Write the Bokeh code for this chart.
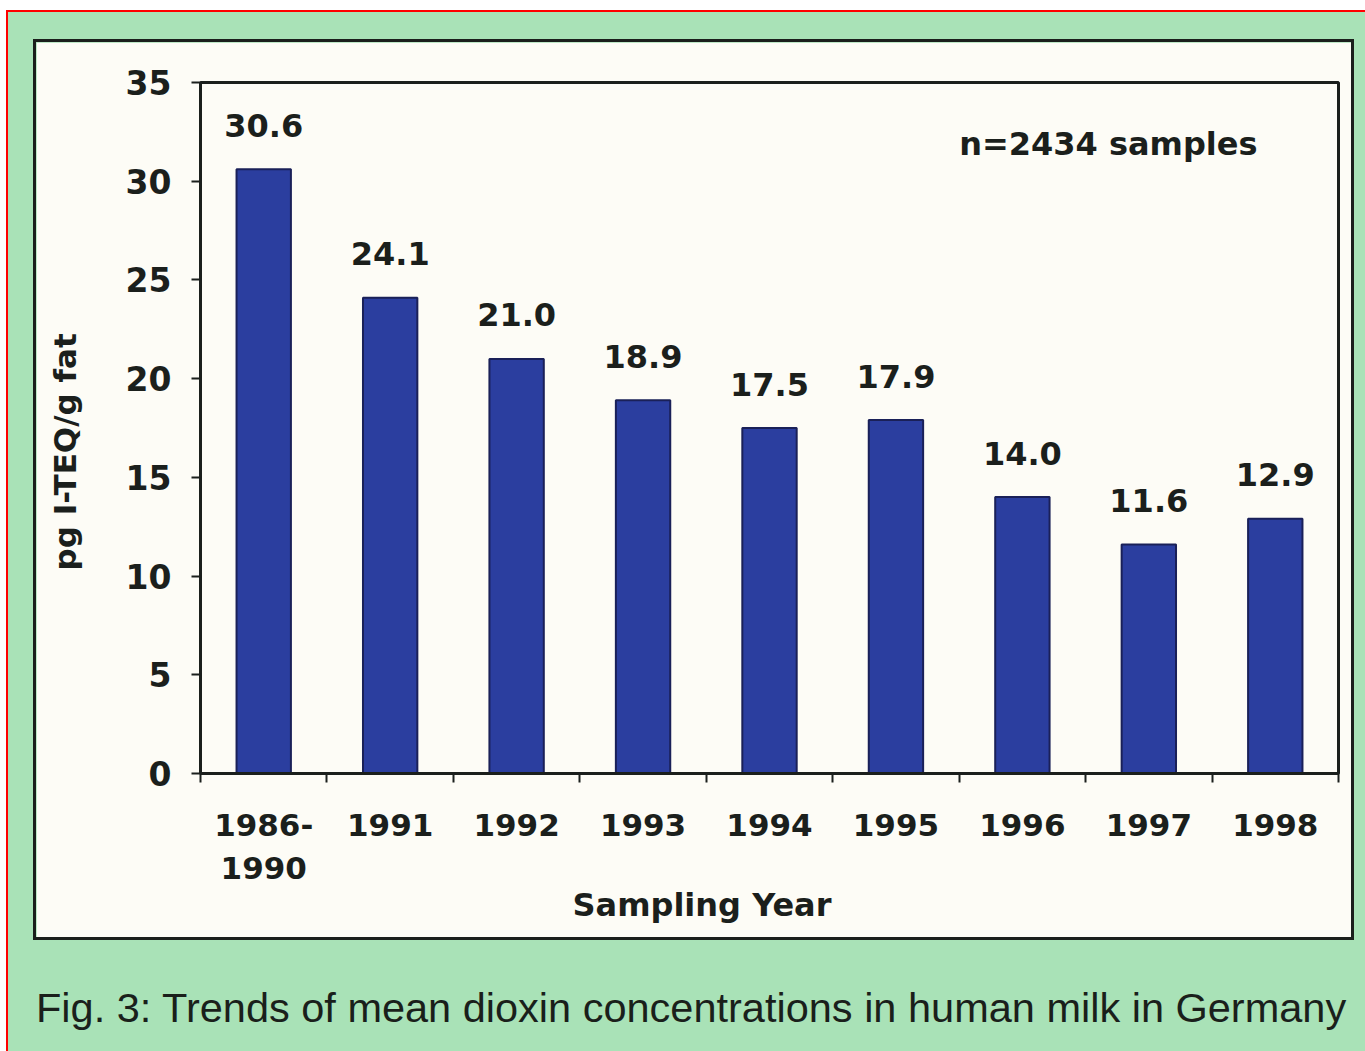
import numpy as np
from bokeh.plotting import figure
from bokeh.models import FixedTicker, Range1d, Label, Div, ColumnDataSource, Title
from bokeh.layouts import column
from bokeh.embed import file_html
from bokeh.resources import INLINE
from bokeh.core.properties import value

# ---- data ----
categories = ["1986-\n1990", "1991", "1992", "1993", "1994", "1995", "1996", "1997", "1998"]
concentrations = [30.6, 24.1, 21.0, 18.9, 17.5, 17.9, 14.0, 11.6, 12.9]
value_labels = ["30.6", "24.1", "21.0", "18.9", "17.5", "17.9", "14.0", "11.6", "12.9"]
y_ticks = [0, 5, 10, 15, 20, 25, 30, 35]

GREEN = "#a9e2b7"
CREAM = "#fdfcf6"
DARK = "#1b1f1c"
BAR = "#2b3e9f"
BAR_EDGE = "#1a2058"
FONT = "DejaVu Sans"

n = len(categories)
centers = np.arange(n) + 0.5
src = ColumnDataSource(dict(x=centers, top=concentrations, lab=value_labels))

p = figure(
    width=1315, height=895,
    min_border_left=164, min_border_right=13, min_border_top=40, min_border_bottom=164,
    x_range=Range1d(0, n), y_range=Range1d(0, 35),
    output_backend="svg", toolbar_location=None,
    background_fill_color=CREAM, border_fill_color=CREAM,
    outline_line_color=DARK, outline_line_width=3,
)
p.grid.visible = False

p.vbar(x="x", top="top", width=0.43, source=src,
       fill_color=BAR, line_color=BAR_EDGE, line_width=2)

p.text(x="x", y="top", text="lab", source=src,
       text_align="center", text_baseline="alphabetic", y_offset=-44,
       text_font=value(FONT), text_font_style="bold",
       text_font_size="32px", text_color=DARK)

p.add_layout(Label(x=6.0, y=31.9, text="n=2434 samples",
                   text_font=FONT, text_font_style="bold",
                   text_font_size="32px", text_color=DARK,
                   text_baseline="alphabetic"))

# x axis: labels at bar centres, ticks at category boundaries
xa = p.xaxis[0]
xa.ticker = FixedTicker(ticks=list(centers), minor_ticks=list(range(n + 1)))
xa.major_label_overrides = {float(c): lab for c, lab in zip(centers, categories)}
xa.major_tick_out = 0
xa.major_tick_in = 0
xa.minor_tick_out = 9
xa.minor_tick_in = 0
xa.minor_tick_line_color = DARK
xa.minor_tick_line_width = 2
xa.axis_line_color = DARK
xa.axis_line_width = 3
xa.major_label_standoff = 24
xa.major_label_text_font = FONT
xa.major_label_text_font_style = "bold"
xa.major_label_text_font_size = "31px"
xa.major_label_text_color = DARK

ya = p.yaxis[0]
ya.ticker = FixedTicker(ticks=y_ticks, minor_ticks=[])
ya.major_tick_out = 9
ya.major_tick_in = 0
ya.major_tick_line_color = DARK
ya.major_tick_line_width = 2
ya.axis_line_color = DARK
ya.axis_line_width = 3
ya.major_label_standoff = 20
ya.major_label_text_font = FONT
ya.major_label_text_font_style = "bold"
ya.major_label_text_font_size = "33px"
ya.major_label_text_color = DARK

# axis titles, placed off-centre as in the original
p.add_layout(Title(text="Sampling Year", align="left", offset=372, standoff=-10,
                   text_font=FONT, text_font_style="bold",
                   text_font_size="32px", text_color=DARK), "below")
p.add_layout(Title(text="pg I-TEQ/g fat\n", align="left", offset=203, standoff=8,
                   text_font=FONT, text_font_style="bold",
                   text_font_size="31px", text_color=DARK), "left")

p.margin = (30, 0, 0, 28)
p.styles = {"box-shadow": "0 0 0 3px " + DARK}

caption = Div(
    text="Fig. 3: Trends of mean dioxin concentrations in human milk in Germany",
    width=1330, height=48, margin=(47, 0, 0, 28),
    styles={"font-family": "Liberation Sans, Arial, sans-serif", "font-size": "41.5px",
            "line-height": "48px", "color": "#1a1f1b", "white-space": "nowrap"},
)

layout = column(p, caption, width=1359, margin=(10, 0, 0, 6),
                styles={"background-color": GREEN,
                        "border-top": "2px solid #ff0000",
                        "border-left": "2px solid #ff0000",
                        "padding-bottom": "30px"})

open("out.html", "w").write(file_html(layout, INLINE))
